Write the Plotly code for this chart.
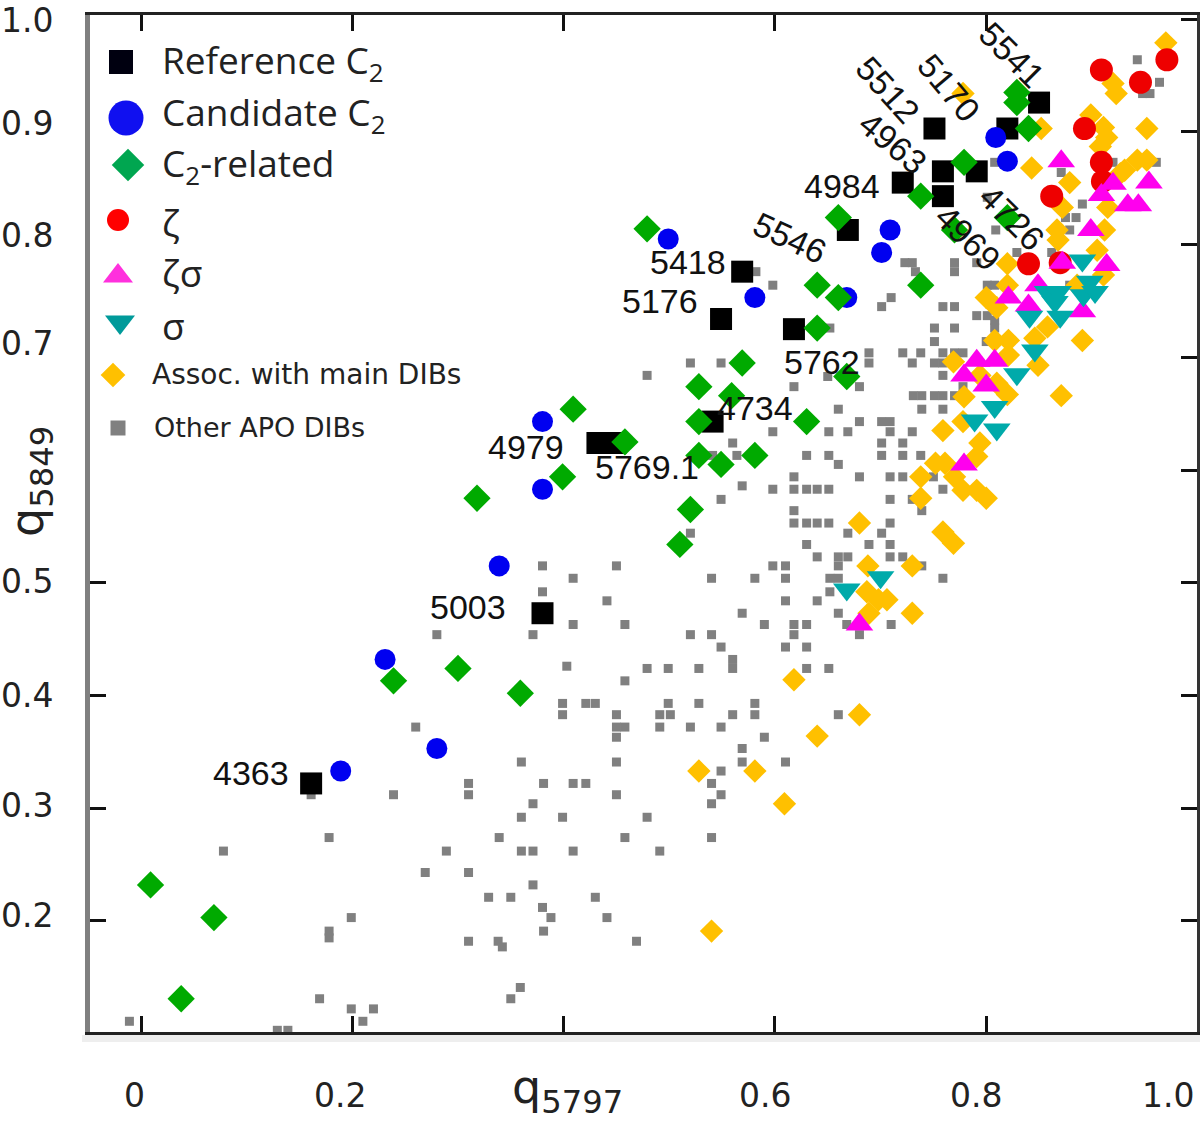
import plotly.graph_objects as go

# --- data (q5797, q5849) ---
ref_x = [.850,.751,.820,.759,.791,.721,.759,.669,.569,.549,.618,.541,.432,.449,.380,.161]
ref_y = [.926,.903,.903,.865,.865,.855,.843,.813,.776,.734,.725,.643,.624,.624,.473,.322]

cand_x = [.809,.820,.709,.701,.499,.581,.668,.380,.380,.339,.189,.280,.231]
cand_y = [.895,.874,.813,.793,.805,.753,.753,.643,.583,.515,.333,.353,.432]

rel_x = [.829,.829,.840,.779,.738,.660,.820,.770,.640,.660,.738,.640,.668,.630,.479,.569,.528,.559,
         .528,.409,.458,.399,.528,.549,.581,.520,.510,.359,.318,.300,.239,.009,.069,.038]
rel_y = [.935,.926,.903,.873,.843,.824,.824,.813,.764,.753,.764,.726,.683,.643,.814,.695,.674,.666,
         .643,.654,.625,.594,.613,.605,.613,.565,.534,.402,.575,.424,.413,.232,.203,.131]

zeta_x = [.909,.971,.946,.893,.909,.910,.862,.840,.870]
zeta_y = [.955,.964,.944,.903,.873,.856,.843,.783,.784]

zs_x = [.871,.920,.954,.909,.934,.944,.899,.872,.914,.849,.821,.840,.891,.791,.808,.779,.800,.779,.680]
zs_y = [.874,.854,.855,.844,.835,.835,.813,.784,.782,.764,.753,.746,.741,.697,.697,.684,.675,.605,.463]

sig_x = [.891,.898,.858,.868,.892,.903,.865,.841,.870,.846,.829,.808,.789,.810,.700,.668]
sig_y = [.786,.767,.758,.758,.755,.758,.749,.736,.736,.706,.685,.656,.644,.636,.505,.494]

main_x = [.970,.920,.923,.778,.899,.911,.914,.908,.852,.952,.843,.879,.943,.952,.931,.927,.915,.872,
          .867,.868,.912,.905,.820,.911,.820,.800,.810,.886,.891,.858,.846,.808,.821,.821,.769,.849,
          .794,.810,.820,.871,.779,.778,.759,.794,.791,.752,.761,.738,.770,.778,.791,.800,.738,.680,
          .759,.769,.688,.730,.687,.698,.706,.689,.730,.618,.680,.640,.528,.581,.609,.540]
main_y = [.979,.943,.934,.934,.915,.904,.895,.887,.903,.903,.868,.855,.875,.875,.866,.863,.833,.833,
          .813,.804,.813,.795,.783,.773,.764,.753,.744,.764,.715,.727,.717,.715,.715,.702,.696,.693,
          .684,.677,.667,.666,.665,.643,.635,.624,.612,.606,.606,.594,.594,.582,.582,.575,.575,.553,
          .545,.535,.515,.515,.492,.485,.485,.473,.473,.414,.383,.364,.333,.333,.304,.191]

other_points = [
    (.943,.964),(.964,.944),(.948,.934),(.955,.934),(.808,.873),(.920,.873),(.961,.873),(.871,.864),
    (.801,.842),(.891,.836),(.875,.824),(.885,.824),(.879,.813),(.809,.813),(.829,.793),(.862,.793),
    (.723,.784),(.730,.784),(.770,.784),(.791,.784),(.733,.776),(.770,.776),(.582,.776),(.801,.764),
    (.808,.764),(.879,.764),(.598,.764),(.710,.753),(.701,.745),(.759,.745),(.770,.745),(.791,.737),
    (.801,.737),(.808,.733),(.808,.726),(.751,.726),(.770,.726),(.652,.726),(.751,.714),(.800,.714),
    (.689,.704),(.721,.704),(.738,.704),(.759,.704),(.770,.704),(.778,.704),(.689,.695),(.730,.695),
    (.751,.695),(.759,.695),(.520,.695),(.549,.695),(.759,.684),(.479,.684),(.650,.683),(.778,.674),
    (.680,.674),(.618,.674),(.731,.666),(.739,.666),(.751,.666),(.759,.666),(.770,.666),(.660,.654),
    (.739,.654),(.759,.654),(.680,.643),(.701,.643),(.709,.643),(.709,.634),(.651,.634),(.669,.634),
    (.730,.634),(.598,.634),(.701,.624),(.721,.624),(.560,.624),(.630,.613),(.651,.613),(.701,.613),
    (.721,.613),(.738,.613),(.541,.613),(.564,.613),(.660,.605),(.680,.594),(.709,.594),(.721,.594),
    (.618,.594),(.750,.594),(.569,.586),(.598,.583),(.618,.583),(.630,.583),(.640,.583),(.651,.583),
    (.759,.583),(.549,.574),(.709,.574),(.730,.574),(.739,.564),(.618,.564),(.618,.553),(.630,.553),
    (.640,.553),(.651,.553),(.709,.553),(.669,.544),(.701,.544),(.520,.544),(.630,.534),(.689,.534),
    (.709,.534),(.640,.523),(.660,.523),(.669,.523),(.709,.523),(.721,.523),(.660,.515),(.739,.515),
    (.380,.515),(.450,.515),(.598,.515),(.610,.515),(.409,.504),(.540,.504),(.581,.504),(.610,.504),
    (.652,.504),(.660,.504),(.759,.504),(.380,.492),(.652,.492),(.441,.484),(.610,.484),(.640,.484),
    (.660,.473),(.569,.473),(.409,.463),(.458,.463),(.590,.463),(.618,.463),(.630,.463),(.668,.463),
    (.710,.463),(.371,.454),(.520,.454),(.540,.454),(.618,.454),(.680,.454),(.280,.454),(.549,.443),
    (.610,.443),(.630,.443),(.560,.432),(.560,.424),(.479,.424),(.499,.424),(.528,.424),(.630,.424),
    (.651,.424),(.403,.426),(.458,.413),(.399,.393),(.421,.393),(.430,.393),(.499,.393),(.528,.393),
    (.581,.393),(.399,.383),(.450,.383),(.491,.383),(.501,.383),(.560,.383),(.581,.383),(.660,.383),
    (.260,.372),(.450,.372),(.458,.372),(.491,.372),(.520,.372),(.549,.372),(.450,.363),(.590,.363),
    (.569,.353),(.569,.341),(.450,.341),(.360,.341),(.610,.341),(.549,.333),(.310,.322),(.381,.322),
    (.409,.322),(.421,.322),(.540,.322),(.239,.312),(.161,.312),(.310,.312),(.450,.312),(.549,.312),
    (.371,.304),(.540,.304),(.360,.292),(.399,.292),(.479,.292),(.178,.274),(.339,.274),(.458,.274),
    (.540,.274),(.078,.262),(.289,.262),(.360,.262),(.371,.262),(.409,.262),(.491,.262),(.269,.243),
    (.310,.243),(.371,.232),(.329,.221),(.350,.221),(.430,.221),(.380,.212),(.199,.203),(.388,.203),
    (.441,.203),(.178,.191),(.381,.191),(.178,.185),(.310,.182),(.338,.182),(.469,.182),(.342,.177),
    (.359,.141),(.169,.131),(.350,.131),(.199,.122),(.220,.122),(.210,.111),(-.011,.111),(.129,.103),
    (.139,.103),
]
other_x = [p[0] for p in other_points]
other_y = [p[1] for p in other_points]

axis_ticks_x = [0, .2, .4, .6, .8, 1.0]
left_ticks_y = [.2, .3, .4, .5]
right_ticks_y = [.2, .3, .4, .5, .6, .7, .8, .9, 1.0]

x_tick_labels = ["0", "0.2", "0.6", "0.8", "1.0"]
y_tick_labels = ["1.0", "0.9", "0.8", "0.7", "0.5", "0.4", "0.3", "0.2"]

# label text, centre in page pixels, rotation
dib_labels = [
    ("5541",1012,55,45),("5512",888,90,48),("5170",949,88,50),("4963",893,143,40),
    ("4726",1012,218,45),("4969",968,238,45),("5546",790,238,25),("4984",842,186,0),
    ("5418",688,262,0),("5176",660,301,0),("5762",822,362,0),("4734",755,408,0),
    ("4979",526,447,0),("5769.1",647,467,0),("5003",468,607,0),("4363",251,773,0),
]

COLORS = dict(ref="#000000", cand="#0000f0", rel="#00aa00", zeta="#ee0000",
              zs="#ff00ee", sig="#00aaaa", main="#ffc000", other="#808080")

fig = go.Figure()

def pts(x, y, name, symbol, size, color):
    fig.add_trace(go.Scatter(x=x, y=y, mode="markers", name=name, showlegend=False,
                             marker=dict(symbol=symbol, size=size, color=color, line=dict(width=0)),
                             xaxis="x", yaxis="y"))

pts(other_x, other_y, "Other APO DIBs", "square", 9, COLORS["other"])
pts(main_x, main_y, "Assoc. with main DIBs", "diamond", 18, COLORS["main"])
pts(ref_x, ref_y, "Reference C2", "square", 22, COLORS["ref"])
pts(cand_x, cand_y, "Candidate C2", "circle", 21, COLORS["cand"])
pts(rel_x, rel_y, "C2-related", "diamond", 21, COLORS["rel"])
pts(zeta_x, zeta_y, "ζ", "circle", 23, COLORS["zeta"])
pts(zs_x, zs_y, "ζσ", "triangle-up", 24, COLORS["zs"])
pts(sig_x, sig_y, "σ", "triangle-down", 24, COLORS["sig"])

# empty trace that carries the top and right-hand axes
fig.add_trace(go.Scatter(x=[None], y=[None], mode="markers", showlegend=False, hoverinfo="skip",
                         xaxis="x3", yaxis="y3"))

# hand-placed key, on a full-page pixel axis
key_rows = [
    ("Reference C<sub>2</sub>", 121, 62, "square", 24, "#000010", 160, 62, "Open Sans", 37),
    ("Candidate C<sub>2</sub>", 126, 118, "circle", 35, "#1010f0", 160, 114, "Open Sans", 37),
    ("C<sub>2</sub>-related", 128, 165, "diamond", 25, "#00a650", 160, 165, "Open Sans", 37),
    ("ζ", 118, 220, "circle", 22, "#ff0000", 160, 222, "Open Sans", 37),
    ("ζσ", 118, 276, "triangle-up", 26, "#ff30dd", 160, 272, "Open Sans", 37),
    ("σ", 120, 322, "triangle-down", 26, "#009a9a", 160, 325, "Open Sans", 37),
    ("Assoc. with main DIBs", 113, 375, "diamond", 19, "#ffc000", 150, 374, "DejaVu Sans", 28),
    ("Other APO DIBs", 118, 428, "square", 15, "#808080", 152, 427, "DejaVu Sans", 27),
]
fig.add_trace(go.Scatter(
    x=[r[1] for r in key_rows], y=[r[2] for r in key_rows], mode="markers", showlegend=False,
    name="key", hoverinfo="skip", xaxis="x2", yaxis="y2",
    marker=dict(symbol=[r[3] for r in key_rows], size=[r[4] for r in key_rows], opacity=1,
                color=[r[5] for r in key_rows], line=dict(width=0))))

ann = []
for r in key_rows:
    ann.append(dict(x=r[6], y=r[7], xref="x2", yref="y2", text=r[0], showarrow=False,
                    xanchor="left", yanchor="middle",
                    font=dict(family=r[8], size=r[9], color="#222222")))
for t, px, py, rot in dib_labels:
    ann.append(dict(x=px, y=py, xref="x2", yref="y2", text=t, showarrow=False, textangle=rot,
                    xanchor="center", yanchor="middle",
                    font=dict(family="Liberation Sans", size=34, color="#111111")))
for t, px in zip(x_tick_labels, [134, 340, 765, 976, 1168]):
    ann.append(dict(x=px, y=1095, xref="x2", yref="y2", text=t, showarrow=False,
                    xanchor="center", yanchor="middle",
                    font=dict(family="DejaVu Sans", size=33, color="#222222")))
for t, py in zip(y_tick_labels, [20, 123, 235, 343, 581, 695, 805, 915]):
    ann.append(dict(x=27, y=py, xref="x2", yref="y2", text=t, showarrow=False,
                    xanchor="center", yanchor="middle",
                    font=dict(family="DejaVu Sans", size=33, color="#222222")))
ann.append(dict(x=567, y=1090, xref="x2", yref="y2", text="q<sub>5797</sub>", showarrow=False,
                xanchor="center", yanchor="middle",
                font=dict(family="DejaVu Sans", size=46, color="#222222")))
ann.append(dict(x=30, y=482, xref="x2", yref="y2", text="q<sub>5849</sub>", showarrow=False,
                textangle=-90, xanchor="center", yanchor="middle",
                font=dict(family="DejaVu Sans", size=46, color="#222222")))

tick_style = dict(showticklabels=False, ticks="inside", ticklen=16, tickwidth=2.5, tickcolor="#111",
                  showgrid=False, zeroline=False, showline=True)
x_range = [-.0483, .9995]
y_range = [.1015, 1.0037]

fig.update_layout(
    width=1200, height=1122, margin=dict(l=0, r=0, t=0, b=0, pad=0),
    paper_bgcolor="white", plot_bgcolor="rgba(0,0,0,0)", showlegend=False,
    annotations=ann,
    xaxis=dict(domain=[90/1200, 1197/1200], range=x_range, tickvals=axis_ticks_x,
               linecolor="#222", linewidth=3, **tick_style),
    yaxis=dict(domain=[1-1032/1122, 1-15/1122], range=y_range, tickvals=left_ticks_y,
               linecolor="#808080", linewidth=5, **tick_style),
    xaxis3=dict(overlaying="x", side="top", anchor="y3", range=x_range, tickvals=axis_ticks_x,
                linecolor="#222", linewidth=3, **tick_style),
    yaxis3=dict(overlaying="y", side="right", anchor="x3", range=y_range, tickvals=right_ticks_y,
                linecolor="#333", linewidth=3, **tick_style),
    xaxis2=dict(domain=[0, 1], range=[0, 1200], visible=False, anchor="y2", fixedrange=True),
    yaxis2=dict(domain=[0, 1], range=[1122, 0], visible=False, anchor="x2", fixedrange=True),
    shapes=[dict(type="rect", xref="x2", yref="y2", x0=82, x1=1200, y0=1035, y1=1042,
                 fillcolor="#eeeeee", line=dict(width=0), layer="below")],
)

fig.write_html("out.html", config={"displayModeBar": False},
               post_script="document.body.style.margin='0';document.documentElement.style.overflow='hidden';")
